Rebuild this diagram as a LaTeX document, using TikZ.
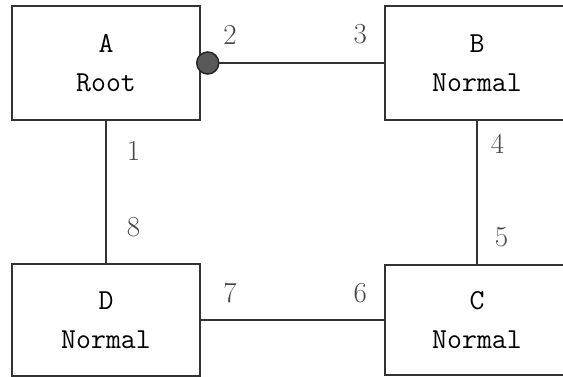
\documentclass[tikz,border=0pt]{standalone}
\usetikzlibrary{positioning}

\begin{document}
\begin{tikzpicture}[x=1pt, y=-1pt, line width=1.5pt, draw=black!80,
  port/.style = {draw=black!80, rectangle, align=center,
    font=\ttfamily\fontsize{29}{39}\selectfont, text=black},
  num/.style = {inner sep=0pt, font=\fontsize{29}{35}\selectfont, text=black!72}]
\useasboundingbox (0,0) rectangle (563,376);
\clip (0,0) rectangle (563,376);
\node[port, minimum width=188pt, minimum height=114pt] (A) at (106,63) {A\\Root};
\node[port, minimum width=184pt, minimum height=114pt] (B) at (477,63) {B\\Normal};
\node[port, minimum width=188pt, minimum height=112pt] (D) at (106,320) {D\\Normal};
\node[port, minimum width=184pt, minimum height=110pt] (C) at (477,320) {C\\Normal};

\draw (A) -- node[num, pos=0.16, above=18pt] (n2) {2}
             node[num, pos=0.87, above=18pt] (n3) {3} (B);
\draw (A) -- node[num, pos=0.21, right=20pt] (n1) {1}
             node[num, pos=0.75, right=20pt] (n8) {8} (D);
\draw (B) -- node[num, pos=0.16, right=13pt] (n4) {4}
             node[num, pos=0.81, right=17pt] (n5) {5} (C);
\draw (D) -- node[num, pos=0.16, above=16pt] (n7) {7}
             node[num, pos=0.87, above=16pt] (n6) {6} (C);

% root port marker
\node[circle, draw=black!85, fill=black!65, inner sep=0pt, minimum size=22pt]
  (dot) at ([xshift=7pt]A.east) {};
\end{tikzpicture}
\end{document}
